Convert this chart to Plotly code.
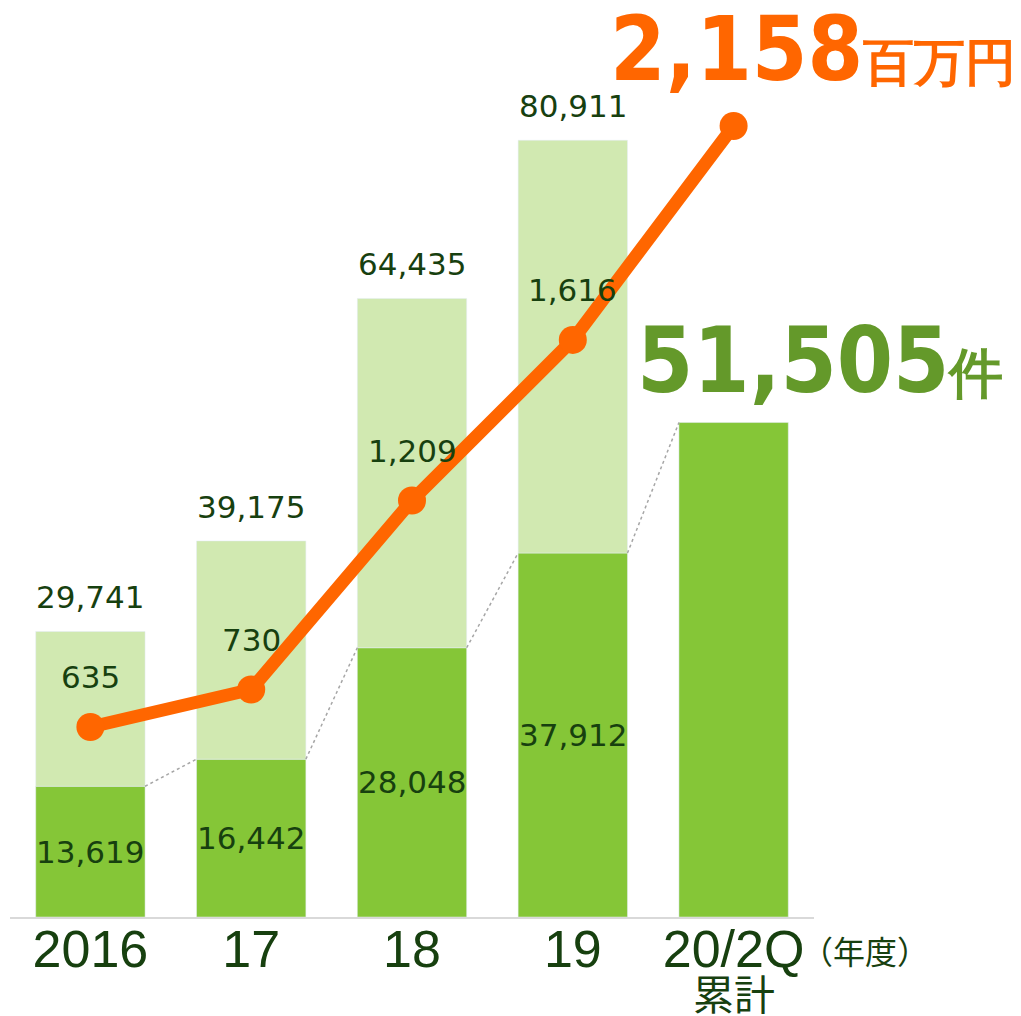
import plotly.graph_objects as go

categories = ["2016", "17", "18", "19", "20/2Q"]
first_half = [13619, 16442, 28048, 37912, 51505]
totals = [29741, 39175, 64435, 80911, None]
amount = [635, 730, 1209, 1616, 2158]  # 百万円

# page has an 8px body margin; figure is sized/offset to compensate
W, H = 1013, 1008
L, R, T, B = 2, 207, 12, 99
BAR_W = 0.68

DARK = "#85C637"
LIGHT = "#D1E9B1"
ORANGE = "#FF6600"
BIGGREEN = "#64992A"
TXT = "#17400F"

x = list(range(len(categories)))
upper = [(t - d) if t is not None else None for t, d in zip(totals, first_half)]

fig = go.Figure()
fig.add_bar(x=x, y=first_half, marker_color=DARK, width=BAR_W, hoverinfo="skip")
fig.add_bar(x=x, y=upper, base=first_half, marker_color=LIGHT, width=BAR_W, hoverinfo="skip")

for i in range(len(x) - 1):
    fig.add_scatter(x=[x[i] + BAR_W / 2, x[i + 1] - BAR_W / 2],
                    y=[first_half[i], first_half[i + 1]],
                    mode="lines", line=dict(color="#A6A6A6", width=1.5, dash="dot"),
                    hoverinfo="skip")

fig.add_scatter(x=x, y=amount, yaxis="y2", mode="lines+markers",
                line=dict(color=ORANGE, width=13),
                marker=dict(size=28, color=ORANGE), hoverinfo="skip")

ann = []
LBL = dict(family="DejaVu Sans, Verdana, sans-serif", size=31, color=TXT)
for i in range(len(x)):
    if totals[i] is not None:
        ann.append(dict(x=x[i], y=totals[i], text=f"{totals[i]:,}", showarrow=False,
                        yshift=34, font=LBL))
        ann.append(dict(x=x[i], y=first_half[i] / 2, text=f"{first_half[i]:,}",
                        showarrow=False, font=LBL))
        ann.append(dict(x=x[i], y=amount[i], yref="y2", text=f"{amount[i]:,}",
                        showarrow=False, yshift=50, font=LBL))

BIGFONT = "DejaVu Sans Condensed, DejaVu Sans, sans-serif"
ann.append(dict(x=x[-1], y=amount[-1], yref="y2", xanchor="right", yanchor="middle",
                xshift=284, yshift=77, showarrow=False,
                text=f"<b>{amount[-1]:,}</b><b><span style='font-size:51px'>百万円</span></b>",
                font=dict(family=BIGFONT, size=89, color=ORANGE)))
ann.append(dict(x=x[-1], y=first_half[-1], xanchor="right", yanchor="bottom",
                xshift=271, yshift=8, showarrow=False,
                text=f"<b>{first_half[-1]:,}</b><b><span style='font-size:54px'>件</span></b>",
                font=dict(family=BIGFONT, size=90, color=BIGGREEN)))

ann.append(dict(x=x[-1], y=0, yanchor="top", yshift=-43, showarrow=False, text="累計",
                font=dict(family="Noto Sans CJK JP", size=41, color=TXT)))
ann.append(dict(x=x[-1], y=0, xanchor="left", yanchor="top", xshift=65, yshift=-8,
                showarrow=False, text="（年度）",
                font=dict(family="Noto Sans CJK JP", size=32, color=TXT)))

pw = W - L - R
ph = H - T - B
shapes = []
for y0, y1 in [(116, 165), (436, 485)]:
    shapes.append(dict(type="rect", xref="paper", yref="paper",
                       x0=(1010 - L) / pw, x1=(1014 - L) / pw,
                       y0=(H - B - y1) / ph, y1=(H - B - y0) / ph,
                       fillcolor=BIGGREEN, line_width=0, layer="above"))

y_top = ph / 0.0096
px_per = 0.3946
y2_lo = 635 - (909 - 719) / px_per
y2_hi = 635 + (719 - T) / px_per

fig.update_layout(
    width=W, height=H, margin=dict(l=L, r=R, t=T, b=B),
    barmode="overlay", showlegend=False,
    plot_bgcolor="white", paper_bgcolor="white",
    xaxis=dict(range=[-0.5, len(x) - 0.5], tickmode="array", tickvals=x,
               ticktext=categories, showgrid=False, zeroline=False,
               showline=True, linecolor="#D9D9D9", linewidth=2, ticks="",
               ticklabelstandoff=-14,
               tickfont=dict(family="Liberation Sans, Arial, sans-serif", size=52, color=TXT)),
    yaxis=dict(range=[0, y_top], visible=False, showgrid=False),
    yaxis2=dict(range=[y2_lo, y2_hi], overlaying="y", visible=False, showgrid=False),
    annotations=ann, shapes=shapes,
)

fig.write_html("out.html")
